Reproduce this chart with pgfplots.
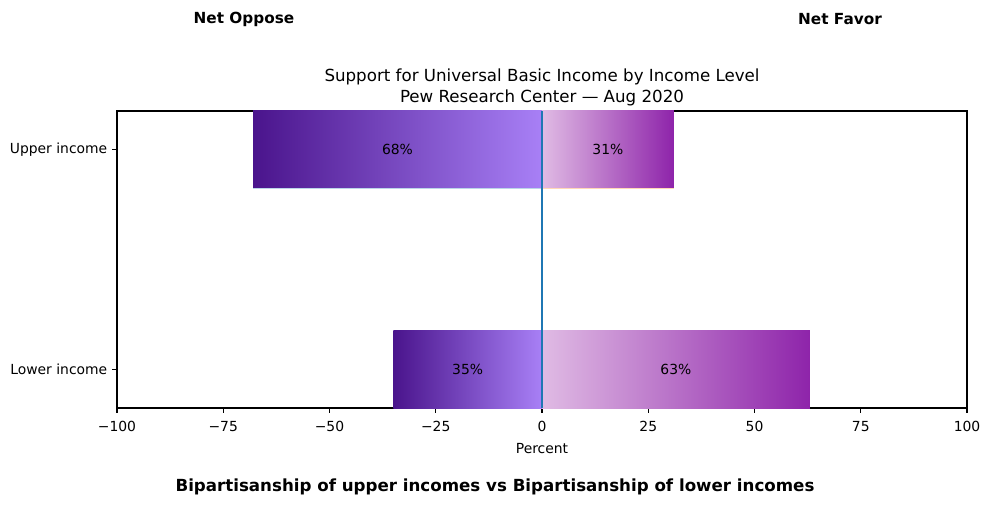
\documentclass[border=0pt]{standalone}
\usepackage{pgfplots}
\pgfplotsset{compat=1.18}
\usepackage{fontspec}
\setmainfont{DejaVu Sans}
\definecolor{lDark}{HTML}{4A148C}
\definecolor{lLight}{HTML}{A880F6}
\definecolor{rLight}{HTML}{E0BBE4}
\definecolor{rDark}{HTML}{8E24AA}
\definecolor{mplblue}{HTML}{1F77B4}
\definecolor{mplorange}{HTML}{FF7F0E}
\begin{document}
\begin{tikzpicture}
\path[use as bounding box] (0,0) rectangle (712.08pt,364.32pt);
\begin{axis}[
  at={(84.24pt,70.56pt)}, anchor=south west,
  scale only axis, width=612pt, height=213.84pt,
  xmin=-100, xmax=100, ymin=-0.175, ymax=1.175,
  xtick={-100,-75,-50,-25,0,25,50,75,100},
  xticklabels={−100,−75,−50,−25,0,25,50,75,100},
  ytick={0,1}, yticklabels={Lower income,Upper income},
  xtick pos=bottom, ytick pos=left,
  tick align=outside, major tick length=3.5pt,
  every tick/.style={black, line width=0.8pt},
  axis line style={line width=0.8pt},
  tick label style={font=\fontsize{10}{12}\selectfont},
  xticklabel style={yshift=-2.5pt},
  xlabel={Percent}, xlabel style={font=\fontsize{10}{12}\selectfont, yshift=-1.5pt},
  title={Support for Universal Basic Income by Income Level\\Pew Research Center — Aug 2020},
  title style={align=center, font=\fontsize{12}{15}\selectfont, yshift=-6pt},
  clip=false,
]
% Upper income
\addplot[draw=none, left color=lDark, right color=lLight] coordinates {(-68,0.825) (0,0.825) (0,1.175) (-68,1.175)} --cycle;
\addplot[draw=none, left color=rLight, right color=rDark] coordinates {(0,0.825) (31,0.825) (31,1.175) (0,1.175)} --cycle;
\addplot[mplblue!30, line width=0.6pt] coordinates {(-68,0.822) (0,0.822)};
\addplot[mplorange!30, line width=0.6pt] coordinates {(0,0.822) (31,0.822)};
% Lower income
\addplot[draw=none, left color=lDark, right color=lLight] coordinates {(-35,-0.175) (0,-0.175) (0,0.175) (-35,0.175)} --cycle;
\addplot[draw=none, left color=rLight, right color=rDark] coordinates {(0,-0.175) (63,-0.175) (63,0.175) (0,0.175)} --cycle;
% zero line
\addplot[mplblue, line width=1.5pt] coordinates {(0,-0.175) (0,1.175)};
% labels
\node[font=\fontsize{10}{12}\selectfont] at (axis cs:-34,1) {68\%};
\node[font=\fontsize{10}{12}\selectfont] at (axis cs:15.5,1) {31\%};
\node[font=\fontsize{10}{12}\selectfont] at (axis cs:-17.5,0) {35\%};
\node[font=\fontsize{10}{12}\selectfont] at (axis cs:31.5,0) {63\%};
\end{axis}
\node[font=\fontsize{11}{13}\selectfont\bfseries] at (175.68pt,350.6pt) {Net Oppose};
\node[font=\fontsize{11}{13}\selectfont\bfseries] at (604.8pt,350.6pt) {Net Favor};
\node[font=\fontsize{12}{14}\selectfont\bfseries] at (356.4pt,13.68pt) {Bipartisanship of upper incomes vs Bipartisanship of lower incomes};
\end{tikzpicture}
\end{document}
